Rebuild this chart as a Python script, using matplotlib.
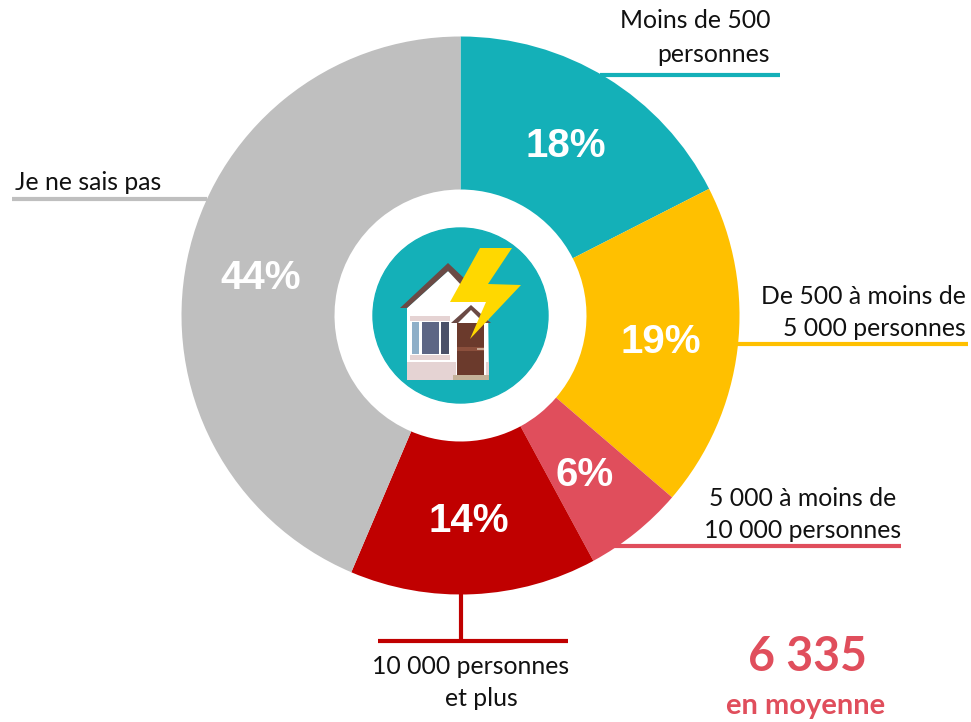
import matplotlib
matplotlib.use("Agg")
import matplotlib.pyplot as plt
from matplotlib.patches import Circle, Polygon, Rectangle

W, H = 971, 722

shares = [17.5, 18.8, 5.8, 14.3, 43.6]
pct_labels = ["18%", "19%", "6%", "14%", "44%"]
colors = ["#14B0B8", "#FFC000", "#E04E5C", "#C00000", "#BFBFBF"]

plt.rcParams['font.family'] = ['Lato', 'DejaVu Sans']

fig = plt.figure(figsize=(W / 100, H / 100), dpi=100)
ax = fig.add_axes([0, 0, 1, 1])

# donut (axe y inverse : l'angle croissant tourne dans le sens horaire)
cx, cy, r = 460.5, 315.5, 279
ax.pie(shares, colors=colors, startangle=-90, counterclock=True,
       center=(cx, cy), radius=r, wedgeprops=dict(width=r - 126), frame=True)
ax.set_xlim(0, W)
ax.set_ylim(H, 0)
ax.set_aspect('equal')
ax.axis('off')

# pourcentages
pct_pos = [(566, 146), (661, 342), (585, 475), (469, 521), (261, 278)]
for (x, y), s in zip(pct_pos, pct_labels):
    ax.text(x, y, s, color='white', fontsize=29, fontweight='bold', family='Liberation Sans',
            ha='center', va='center')

# traits de rappel
leaders = [
    ([600, 780], [75, 75], colors[0]),
    ([735, 968], [344, 344], colors[1]),
    ([608, 901], [546, 546], colors[2]),
    ([378, 568], [641, 641], colors[3]),
    ([461, 461], [594, 641], colors[3]),
    ([12, 207], [199, 199], colors[4]),
]
for xs, ys, c in leaders:
    ax.plot(xs, ys, color=c, lw=3, solid_capstyle='butt')

# libelles
lab = dict(fontsize=17.8, color='#111111', va='center')
ax.text(770, 21, "Moins de 500", ha='right', **lab)
ax.text(770, 54, "personnes", ha='right', **lab)
ax.text(966, 296, "De 500 à moins de", ha='right', **lab)
ax.text(966, 329, "5 000 personnes", ha='right', **lab)
ax.text(896, 498, "5 000 à moins de", ha='right', **lab)
ax.text(901, 531, "10 000 personnes", ha='right', **lab)
ax.text(471, 666, "10 000 personnes", ha='center', **lab)
ax.text(481, 699, "et plus", ha='center', **lab)
ax.text(15, 183, "Je ne sais pas", ha='left', **lab)

# moyenne
ax.text(807, 657, "6 335", color='#E04E5C', fontsize=33.5, fontweight='bold', ha='center', va='center')
ax.text(806, 706, "en moyenne", color='#E04E5C', fontsize=21, fontweight='bold', ha='center', va='center')


def rect(x0, y0, x1, y1, color, z=5):
    ax.add_patch(Rectangle((x0, y0), x1 - x0, y1 - y0, facecolor=color, edgecolor='none', zorder=z))


def poly(pts, color, z=5):
    ax.add_patch(Polygon(pts, facecolor=color, edgecolor='none', zorder=z))


# icone centrale
ax.add_patch(Circle((460.5, 315.5), 87.5, color='#14B0B8', zorder=3))
poly([(407, 308), (448, 271), (488, 303), (489, 380), (407, 380)], 'white', 4)
poly([(400, 308), (448, 263), (466, 280), (462, 286), (448, 271), (407, 308)], '#6B4A45')
rect(407, 362, 489, 380, '#E5D3D3')
rect(410, 316, 450, 321, '#E5D3D3')
rect(410, 355, 450, 360, '#E5D3D3')
rect(412, 322, 419, 354, '#8FAFC8')
rect(422, 322, 439, 354, '#5D6685')
rect(441, 322, 449, 354, '#4A5068')
poly([(451, 323), (471, 305), (491, 323), (484, 323), (471, 310), (458, 323)], '#6B4A45')
rect(456, 323, 486, 376, 'white')
rect(457, 323, 484, 375, '#6B3A2C')
rect(457, 347, 484, 351, '#8B4F3C')
rect(477, 348, 484, 350, '#C9A893')
rect(453, 375, 489, 380, '#C4B299')
poly([(480, 248), (512, 248), (488, 284), (521, 285), (470, 339), (486, 302), (450, 302)], '#FFD800', 6)

fig.savefig('out.png', dpi=100)
